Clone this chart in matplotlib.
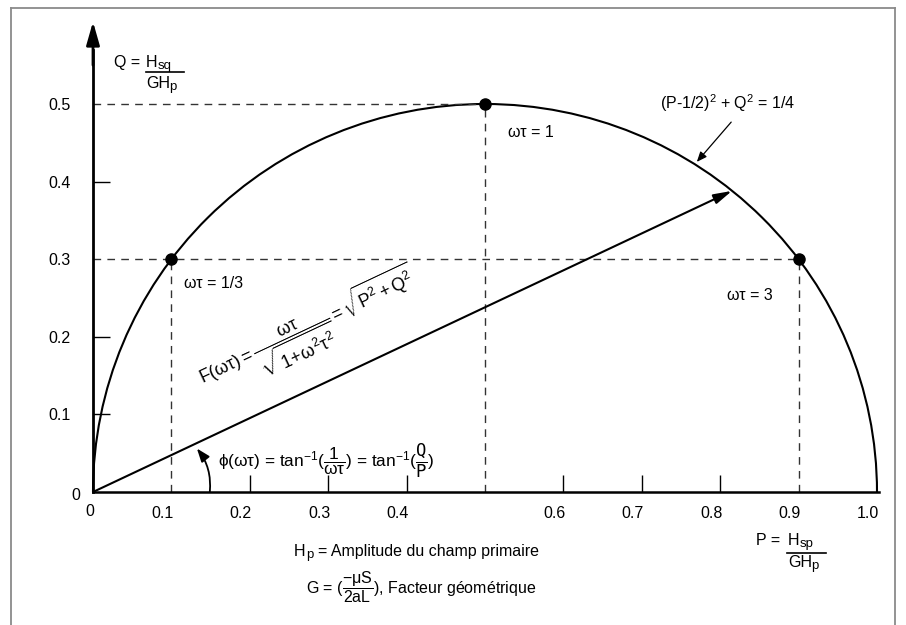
import matplotlib
matplotlib.use('Agg')
import numpy as np
import matplotlib.pyplot as plt
from matplotlib.patches import Arc, FancyArrowPatch
from matplotlib.lines import Line2D
import matplotlib.transforms as mtransforms

plt.rcParams['font.family'] = ['Liberation Sans', 'DejaVu Sans']
plt.rcParams['mathtext.fontset'] = 'custom'
plt.rcParams['mathtext.rm'] = 'Liberation Sans'
plt.rcParams['mathtext.it'] = 'Liberation Sans'
plt.rcParams['mathtext.bf'] = 'Liberation Sans:bold'
plt.rcParams['mathtext.sf'] = 'Liberation Sans'

# points remarquables sur le demi-cercle
pt_labels = ['ωτ = 1/3', 'ωτ = 1', 'ωτ = 3']
P_pts = [0.1, 0.5, 0.9]
Q_pts = [0.3, 0.5, 0.3]

# extrémité du vecteur F(ωτ)
P_vec = 0.815
Q_vec = 0.388

# graduations
x_ticks = [0.2, 0.3, 0.4, 0.6, 0.7, 0.8]
x_labels = [0.1, 0.2, 0.3, 0.4, 0.6, 0.7, 0.8, 0.9, 1.0]
y_ticks = [0.1, 0.2, 0.4]
y_labels = [0.1, 0.2, 0.3, 0.4, 0.5]

W, H = 906, 625
X0, Y0 = 93, 492      # origine en pixels
SX, SY = 784, 776     # pixels par unité
FS = 11.5

fig = plt.figure(figsize=(W / 100, H / 100), dpi=100)
ax = fig.add_axes([0, 0, 1, 1])
ax.set_xlim(-X0 / SX, (W - X0) / SX)
ax.set_ylim(-(H - Y0) / SY, Y0 / SY)


def fpos(px, py):
    # pixel (haut-gauche) -> coordonnées figure
    return px / W, 1 - py / H


def txt(px, py, s, size=FS, **kw):
    kw.setdefault('ha', 'left')
    kw.setdefault('va', 'baseline')
    return fig.text(*fpos(px, py), s, fontsize=size, **kw)


# cadre gris
for xs, ys in [([11, 11], [8, H]), ([11, 895], [8, 8]), ([895, 895], [8, H])]:
    fig.add_artist(Line2D([x / W for x in xs], [1 - y / H for y in ys],
                          color='#8a8a8a', lw=1.3))

# axes
for s in ['top', 'right']:
    ax.spines[s].set_visible(False)
ax.spines['left'].set_position(('data', 0))
ax.spines['bottom'].set_position(('data', 0))
ax.spines['left'].set_bounds(0, 0.57)
ax.spines['bottom'].set_bounds(0, 1.003)
ax.spines['left'].set_linewidth(2)
ax.spines['bottom'].set_linewidth(1.8)

ax.annotate('', xy=(0, 0.606), xytext=(0, 0.55),
            arrowprops=dict(arrowstyle='-|>,head_length=1.4,head_width=0.4',
                            lw=2, color='k', shrinkA=0, shrinkB=0))

ax.xaxis.remove_overlapping_locs = False
ax.yaxis.remove_overlapping_locs = False
ax.set_xticks(x_labels, [f'{v:.1f}' for v in x_labels])
ax.set_xticks(x_ticks, minor=True)
ax.set_yticks(y_labels, [f'{v:.1f}' for v in y_labels])
ax.set_yticks(y_ticks, minor=True)
ax.tick_params(which='major', length=0, labelsize=FS)
ax.tick_params(axis='x', which='major', pad=10)
ax.tick_params(axis='y', which='major', pad=16)
ax.tick_params(which='minor', direction='in', length=12.2, width=1)
off = mtransforms.ScaledTranslation(-9 / 100, 0, fig.dpi_scale_trans)
for lab in ax.get_xticklabels():
    lab.set_transform(lab.get_transform() + off)

txt(90, 512, '0', ha='center', va='center')
txt(76, 495, '0', ha='center', va='center')

# demi-cercle (P-1/2)^2 + Q^2 = 1/4
ax.add_patch(Arc((0.5, 0), 1.0, 1.0, theta1=0, theta2=180, lw=1.5, color='k'))

# lignes de rappel
dash = dict(color='#333333', lw=1, dashes=(5.5, 4.5))
for p, q in zip(P_pts, Q_pts):
    ax.plot([p, p], [0, q], **dash)
for q in sorted(set(Q_pts)):
    pmax = max(p for p, qq in zip(P_pts, Q_pts) if qq == q)
    ax.plot([0, pmax], [q, q], **dash)

ax.plot(P_pts, Q_pts, 'o', color='k', ms=8, zorder=5)

for lab, (px, py) in zip(pt_labels, [(184, 283), (508, 132), (727, 296)]):
    txt(px, py, lab, va='center')

# vecteur F(ωτ)
ax.annotate('', xy=(P_vec, Q_vec), xytext=(0, 0),
            arrowprops=dict(arrowstyle='-|>,head_length=1.1,head_width=0.3',
                            lw=1.5, color='k', shrinkA=0, shrinkB=0))
ang = np.degrees(np.arctan2(Q_vec * SY, P_vec * SX))
txt(310, 332,
    r'$\mathrm{F}(\omega\tau) = \dfrac{\omega\tau}{\sqrt{1\!+\!\omega^2\tau^2}} = \sqrt{\mathrm{P}^2 + \mathrm{Q}^2}$',
    size=12.8, rotation=ang, rotation_mode='anchor', ha='center', va='center')

# angle phi
r = 0.149
phi = np.arctan2(Q_vec, P_vec)
ax.annotate('', xy=(r * np.cos(phi) - 0.002, r * np.sin(phi) - 0.008), xytext=(r, 0),
            arrowprops=dict(arrowstyle='-|>,head_length=0.8,head_width=0.3',
                            connectionstyle='arc3,rad=0.2', lw=1.3, color='k',
                            shrinkA=0, shrinkB=0))
txt(218, 461,
    r'$\phi(\omega\tau)$ = tan$^{-1}$($\dfrac{1}{\omega\tau}$) = tan$^{-1}$($\dfrac{\mathtt{Q}}{\mathtt{P}}$)',
    size=12.4, va='center')

# équation du cercle
txt(660, 103, '(P-1/2)$^2$ + Q$^2$ = 1/4', va='center')
fig.add_artist(FancyArrowPatch(
    fpos(733, 120), fpos(695, 164), transform=fig.transFigure,
    arrowstyle='-|>,head_length=6,head_width=2.5', lw=0.9, color='k'))

# axe Q
txt(114, 67, 'Q =')
txt(146, 67, 'H')
txt(158, 69, 'sq', size=9.5)
fig.add_artist(Line2D([146 / W, 184 / W], [1 - 72 / H] * 2, color='k', lw=1.2))
txt(146, 88, 'GH')
txt(169, 90, 'p', size=9.5)

# axe P
txt(756, 545, 'P =')
txt(788, 545, 'H')
txt(800, 547, 'sp', size=9.5)
fig.add_artist(Line2D([787 / W, 826 / W], [1 - 553 / H] * 2, color='k', lw=1.2))
txt(788, 567, 'GH')
txt(811, 569, 'p', size=9.5)

# légendes du bas
txt(294, 556, 'H')
txt(306, 558, 'p', size=9.5)
txt(318, 556, '= Amplitude du champ primaire')
txt(306, 587, r'G = ($\dfrac{-\mu S}{2aL}$), Facteur géométrique', va='center')

fig.savefig('out.png', dpi=100)
